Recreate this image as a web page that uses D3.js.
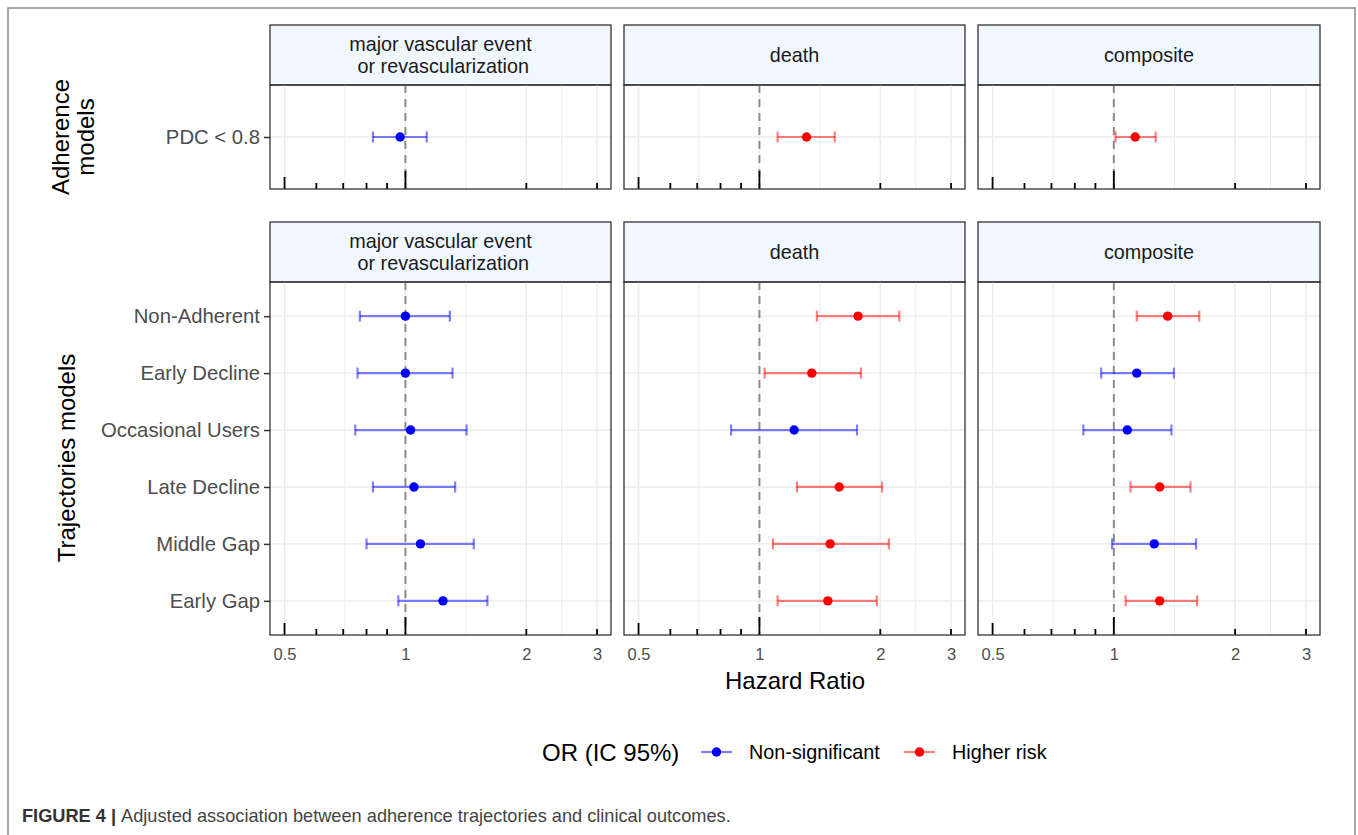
<!DOCTYPE html>
<html>
<head>
<meta charset="utf-8">
<script src="https://cdn.jsdelivr.net/npm/d3@7"></script>
<style>
  html, body { margin: 0; padding: 0; background: #fff; }
  svg { display: block; font-family: "Liberation Sans", Arial, sans-serif; }
</style>
</head>
<body>
<svg id="chart" width="1358" height="835"></svg>
<script>
// ---------------- DATA ----------------
const outcomes = ["major vascular event\n or revascularization", "death", "composite"];
const adherenceCats = ["PDC < 0.8"];
const trajectoryCats = ["Non-Adherent", "Early Decline", "Occasional Users", "Late Decline", "Middle Gap", "Early Gap"];
const xTickValues = [0.5, 1, 2, 3];
const logTickValues = [0.5, 0.6, 0.7, 0.8, 0.9, 1, 2, 3];
const legendLabels = ["Non-significant", "Higher risk"];

// Adherence models (one value per outcome)
const adherenceHR  = [0.97, 1.31, 1.13];
const adherenceLow = [0.83, 1.11, 1.01];
const adherenceUp  = [1.13, 1.54, 1.27];
const adherenceSig = ["Non-significant", "Higher risk", "Higher risk"];

// Trajectories models (per outcome, one value per trajectory)
const mveHR   = [1.00, 1.00, 1.03, 1.05, 1.09, 1.24];
const mveLow  = [0.77, 0.76, 0.75, 0.83, 0.80, 0.96];
const mveUp   = [1.29, 1.31, 1.42, 1.33, 1.48, 1.60];
const mveSig  = ["Non-significant", "Non-significant", "Non-significant", "Non-significant", "Non-significant", "Non-significant"];

const deathHR  = [1.76, 1.35, 1.22, 1.58, 1.50, 1.48];
const deathLow = [1.39, 1.03, 0.85, 1.24, 1.08, 1.11];
const deathUp  = [2.23, 1.79, 1.75, 2.02, 2.10, 1.96];
const deathSig = ["Higher risk", "Higher risk", "Non-significant", "Higher risk", "Higher risk", "Higher risk"];

const compHR  = [1.36, 1.14, 1.08, 1.30, 1.26, 1.30];
const compLow = [1.14, 0.93, 0.84, 1.10, 0.99, 1.07];
const compUp  = [1.63, 1.41, 1.39, 1.55, 1.60, 1.61];
const compSig = ["Higher risk", "Non-significant", "Non-significant", "Higher risk", "Non-significant", "Higher risk"];

// ---------------- BUILD TABLES ----------------
const adherenceRows = outcomes.map((o, i) => [{
  cat: adherenceCats[0], hr: adherenceHR[i], lo: adherenceLow[i], hi: adherenceUp[i], sig: adherenceSig[i]
}]);
const trajSets = [
  [mveHR, mveLow, mveUp, mveSig],
  [deathHR, deathLow, deathUp, deathSig],
  [compHR, compLow, compUp, compSig]
];
const trajectoryRows = trajSets.map(([h, l, u, s]) =>
  trajectoryCats.map((c, j) => ({ cat: c, hr: h[j], lo: l[j], hi: u[j], sig: s[j] })));

// ---------------- LAYOUT ----------------
const svg = d3.select("#chart");
const color = d3.scaleOrdinal().domain(legendLabels).range(["#0000FF", "#FF0000"]);
const panelX = [[270, 611], [624, 965], [978, 1320]];
const xDomain = [0.46, 3.25];

// outer frame
svg.append("rect").attr("x", 8).attr("y", 8).attr("width", 1347).attr("height", 900)
  .attr("fill", "none").attr("stroke", "#8a8a8a").attr("stroke-width", 1.5);

function drawRow(rows, cats, stripTop, stripBottom, panelBottom, showXAxis) {
  rows.forEach((data, k) => {
    const [x0, x1] = panelX[k];
    const x = d3.scaleLog().domain(xDomain).range([x0, x1]);
    const y = d3.scalePoint().domain(cats).range([stripBottom, panelBottom]).padding(0.6);
    const g = svg.append("g");

    // strip
    g.append("rect").attr("x", x0).attr("y", stripTop).attr("width", x1 - x0).attr("height", stripBottom - stripTop)
      .attr("fill", "#F0F7FE").attr("stroke", "#333").attr("stroke-width", 1.3);
    const lines = outcomes[k].split("\n");
    const cy = (stripTop + stripBottom) / 2;
    lines.forEach((ln, li) => {
      g.append("text").attr("x", (x0 + x1) / 2)
        .attr("y", cy + (li - (lines.length - 1) / 2) * 22)
        .attr("dy", "0.35em").attr("text-anchor", "middle")
        .attr("font-size", 19.8).attr("fill", "#1a1a1a")
        .attr("xml:space", "preserve").text(ln);
    });

    // gridlines
    const minor = [];
    for (let i = 0; i < xTickValues.length - 1; i++) minor.push(Math.sqrt(xTickValues[i] * xTickValues[i + 1]));
    g.selectAll(".minor").data(minor).join("line")
      .attr("x1", d => x(d)).attr("x2", d => x(d)).attr("y1", stripBottom).attr("y2", panelBottom)
      .attr("stroke", "#EBEBEB").attr("stroke-width", 1);
    g.selectAll(".major").data(xTickValues).join("line")
      .attr("x1", d => x(d)).attr("x2", d => x(d)).attr("y1", stripBottom).attr("y2", panelBottom)
      .attr("stroke", "#EBEBEB").attr("stroke-width", 1.4);
    g.selectAll(".hgrid").data(cats).join("line")
      .attr("x1", x0).attr("x2", x1).attr("y1", d => y(d)).attr("y2", d => y(d))
      .attr("stroke", "#EBEBEB").attr("stroke-width", 1.4);

    // reference line
    g.append("line").attr("x1", x(1)).attr("x2", x(1)).attr("y1", stripBottom).attr("y2", panelBottom)
      .attr("stroke", "#8c8c8c").attr("stroke-width", 2).attr("stroke-dasharray", "8,6");

    // error bars
    const eb = g.selectAll(".eb").data(data).join("g").attr("stroke", d => color(d.sig))
      .attr("stroke-opacity", 0.5).attr("stroke-width", 2.2);
    eb.append("line").attr("x1", d => x(d.lo)).attr("x2", d => x(d.hi))
      .attr("y1", d => y(d.cat)).attr("y2", d => y(d.cat));
    eb.append("line").attr("x1", d => x(d.lo)).attr("x2", d => x(d.lo))
      .attr("y1", d => y(d.cat) - 5.5).attr("y2", d => y(d.cat) + 5.5);
    eb.append("line").attr("x1", d => x(d.hi)).attr("x2", d => x(d.hi))
      .attr("y1", d => y(d.cat) - 5.5).attr("y2", d => y(d.cat) + 5.5);

    // points
    g.selectAll(".pt").data(data).join("circle")
      .attr("cx", d => x(d.hr)).attr("cy", d => y(d.cat)).attr("r", 4.7)
      .attr("fill", d => color(d.sig));

    // log ticks (annotation at bottom)
    g.selectAll(".lt").data(logTickValues).join("line")
      .attr("x1", d => x(d)).attr("x2", d => x(d))
      .attr("y1", panelBottom)
      .attr("y2", d => panelBottom - (d === 1 ? 18 : d === 0.5 ? 12 : 6))
      .attr("stroke", "#000").attr("stroke-width", 1.8);

    // panel border
    g.append("rect").attr("x", x0).attr("y", stripBottom).attr("width", x1 - x0).attr("height", panelBottom - stripBottom)
      .attr("fill", "none").attr("stroke", "#333").attr("stroke-width", 1.3);

    // y axis on first panel
    if (k === 0) {
      const ya = g.append("g").attr("transform", `translate(${x0},0)`)
        .call(d3.axisLeft(y).tickSize(6).tickPadding(4));
      ya.select(".domain").remove();
      ya.selectAll(".tick line").attr("stroke", "#333").attr("stroke-width", 1.5);
      ya.selectAll("text").attr("font-size", 20.3).attr("fill", "#4d4d4d")
        .attr("font-family", "Liberation Sans, Arial, sans-serif");
    }
    // x axis labels
    if (showXAxis) {
      const xa = g.append("g").attr("transform", `translate(0,${panelBottom})`)
        .call(d3.axisBottom(x).tickValues(xTickValues).tickFormat(d3.format("~g")).tickSize(0).tickPadding(13));
      xa.select(".domain").remove();
      xa.selectAll("text").attr("font-size", 16.5).attr("fill", "#4d4d4d")
        .attr("font-family", "Liberation Sans, Arial, sans-serif");
    }
  });
}

drawRow(adherenceRows, adherenceCats, 25, 85, 189, false);
drawRow(trajectoryRows, trajectoryCats, 222, 282, 635, true);

// row titles
const t1 = svg.append("text").attr("transform", "translate(0,137) rotate(-90)")
  .attr("text-anchor", "middle").attr("font-size", 24).attr("fill", "#000");
t1.append("tspan").attr("x", 0).attr("y", 69).text("Adherence");
t1.append("tspan").attr("x", 0).attr("y", 94).text("models");

svg.append("text").attr("transform", "translate(75,458) rotate(-90)")
  .attr("text-anchor", "middle").attr("font-size", 24).attr("fill", "#000")
  .text("Trajectories models");

// x axis title
svg.append("text").attr("x", 795).attr("y", 689).attr("text-anchor", "middle")
  .attr("font-size", 24).attr("fill", "#000").text("Hazard Ratio");

// legend
const lg = svg.append("g");
lg.append("text").attr("x", 542).attr("y", 761).attr("font-size", 24).attr("fill", "#000").text("OR (IC 95%)");
const keyX = [701, 904];
legendLabels.forEach((lab, i) => {
  const kx = keyX[i];
  lg.append("line").attr("x1", kx).attr("x2", kx + 31).attr("y1", 752).attr("y2", 752)
    .attr("stroke", color(lab)).attr("stroke-opacity", 0.5).attr("stroke-width", 2.2);
  lg.append("circle").attr("cx", kx + 15.5).attr("cy", 752).attr("r", 4.7).attr("fill", color(lab));
  lg.append("text").attr("x", kx + 48).attr("y", 759).attr("font-size", 19.8).attr("fill", "#000").text(lab);
});

// caption
const cap = svg.append("text").attr("x", 22).attr("y", 822).attr("font-size", 18.2)
  .attr("font-family", "Liberation Sans, Arial, sans-serif");
cap.append("tspan").attr("font-weight", "bold").attr("fill", "#333").text("FIGURE 4 | ");
cap.append("tspan").attr("fill", "#444").text("Adjusted association between adherence trajectories and clinical outcomes.");
</script>
</body>
</html>
